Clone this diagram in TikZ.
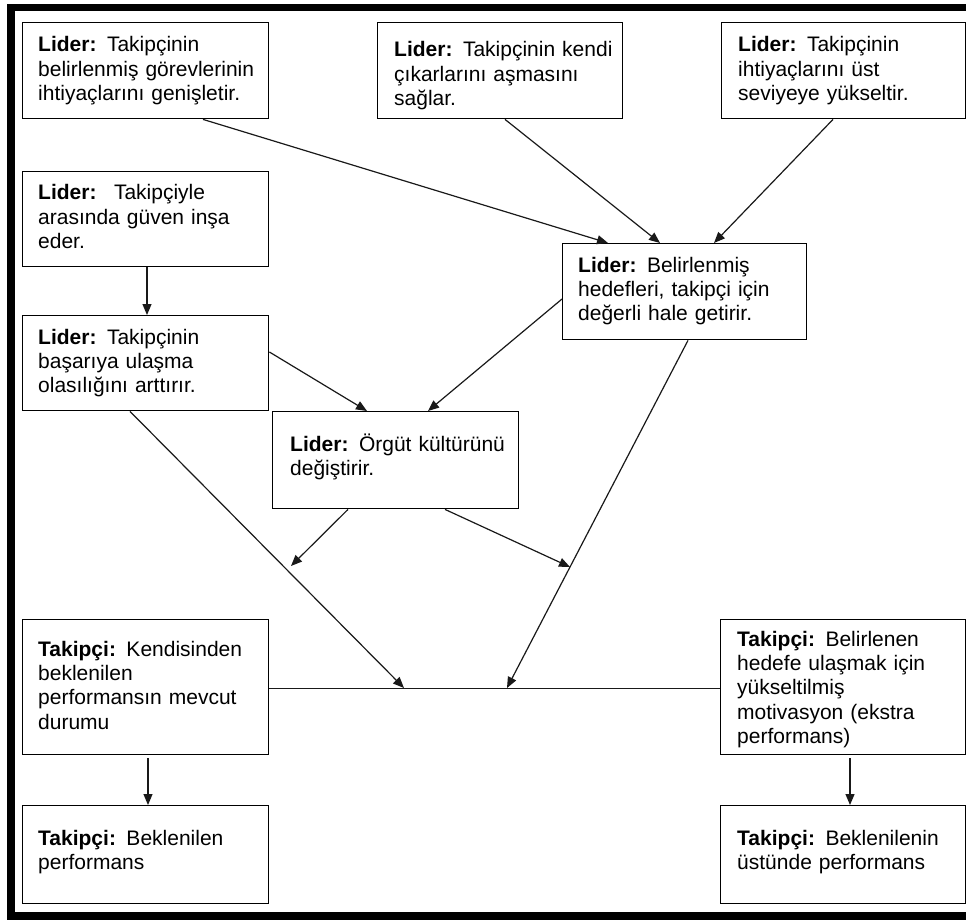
\documentclass[tikz,border=0pt]{standalone}
\usepackage{fontspec}
\setmainfont{Liberation Sans}
\usetikzlibrary{arrows.meta}

\begin{document}
\begin{tikzpicture}[x=1pt, y=-1pt,
  box/.style={draw=black, line width=1.4pt, inner sep=0pt, anchor=north west},
  txt/.style={anchor=base west, inner sep=0pt, align=left, text width=240pt,
              font=\fontsize{21}{24.4}\selectfont},
  conn/.style={draw=black!90, line width=1.2pt},
  arr/.style={conn, -{Triangle[length=11pt, width=9pt]}}]

\useasboundingbox (0,0) rectangle (966,920);
\clip (0,0) rectangle (966,920);
\fill[white] (0,0) rectangle (966,920);

% heavy outer frame
\draw[line width=7.5pt] (11,7.5) rectangle (990,916);

% boxes
\node[box, minimum width=246pt, minimum height=96pt]  (a) at (22,22)   {};
\node[box, minimum width=245pt, minimum height=96pt]  (b) at (377,22)  {};
\node[box, minimum width=244pt, minimum height=96pt]  (c) at (721,22)  {};
\node[box, minimum width=246pt, minimum height=95pt]  (d) at (22,171)  {};
\node[box, minimum width=246pt, minimum height=95pt]  (e) at (22,315)  {};
\node[box, minimum width=244pt, minimum height=96pt]  (f) at (562,243) {};
\node[box, minimum width=246pt, minimum height=97pt]  (g) at (272,411) {};
\node[box, minimum width=246pt, minimum height=135pt] (h) at (22,619)  {};
\node[box, minimum width=245pt, minimum height=135pt] (i) at (720,619) {};
\node[box, minimum width=246pt, minimum height=98pt]  (j) at (22,805)  {};
\node[box, minimum width=245pt, minimum height=98pt]  (k) at (720,805) {};

% box texts
\node[txt] (ta) at (38,52)   {\textbf{Lider:} Takipçinin\\belirlenmiş görevlerinin\\ihtiyaçlarını genişletir.};
\node[txt] (tb) at (394,57)  {\textbf{Lider:} Takipçinin kendi\\çıkarlarını aşmasını\\sağlar.};
\node[txt] (tc) at (738,52)  {\textbf{Lider:} Takipçinin\\ihtiyaçlarını üst\\seviyeye yükseltir.};
\node[txt] (td) at (38,200)  {\textbf{Lider:} \ Takipçiyle\\arasında güven inşa\\eder.};
\node[txt] (te) at (38,344)  {\textbf{Lider:} Takipçinin\\başarıya ulaşma\\olasılığını arttırır.};
\node[txt] (tf) at (578,272) {\textbf{Lider:} Belirlenmiş\\hedefleri, takipçi için\\değerli hale getirir.};
\node[txt] (tg) at (290,451) {\textbf{Lider:} Örgüt kültürünü\\değiştirir.};
\node[txt] (th) at (38,656)  {\textbf{Takipçi:} Kendisinden\\beklenilen\\performansın mevcut\\durumu};
\node[txt] (ti) at (737,646) {\textbf{Takipçi:} Belirlenen\\hedefe ulaşmak için\\yükseltilmiş\\motivasyon (ekstra\\performans)};
\node[txt] (tj) at (38,845)  {\textbf{Takipçi:} Beklenilen\\performans};
\node[txt] (tk) at (737,845) {\textbf{Takipçi:} Beklenilenin\\üstünde performans};

% free ends of the converging connectors
\coordinate (eEnd) at (404,688);
\coordinate (fEnd) at (507,688);
\coordinate (gL)   at (291,566);
\coordinate (gR)   at (570,567);

% connectors into the "Belirlenmiş hedefler" box
\draw[arr] ([xshift=181pt]a.south west) -- ([xshift=46pt]f.north west);
\draw[arr] ([xshift=128pt]b.south west) -- ([xshift=98pt]f.north west);
\draw[arr] ([xshift=112pt]c.south west) -- ([xshift=152pt]f.north west);

% left column
\draw[arr] ([xshift=125pt]d.south west) -- ([xshift=125pt]e.north west);
\draw[arr] ([yshift=-37pt]e.north east) -- ([xshift=95pt]g.north west);
\draw[arr] ([yshift=-56pt]f.north west) -- ([xshift=156pt]g.north west);

% down to the follower level
\draw[arr] ([xshift=108pt]e.south west) -- (eEnd);
\draw[arr] ([xshift=126pt]f.south west) -- (fEnd);
\draw[arr] ([xshift=76pt]g.south west)  -- (gL);
\draw[arr] ([xshift=173pt]g.south west) -- (gR);

% follower level
\draw[conn] ([yshift=-1.5pt]h.east) -- ([yshift=-1.5pt]i.west);
\draw[arr] ([xshift=126pt, yshift=-3pt]h.south west) -- ([xshift=126pt]j.north west);
\draw[arr] ([xshift=130pt, yshift=-3pt]i.south west) -- ([xshift=130pt]k.north west);

\end{tikzpicture}
\end{document}
